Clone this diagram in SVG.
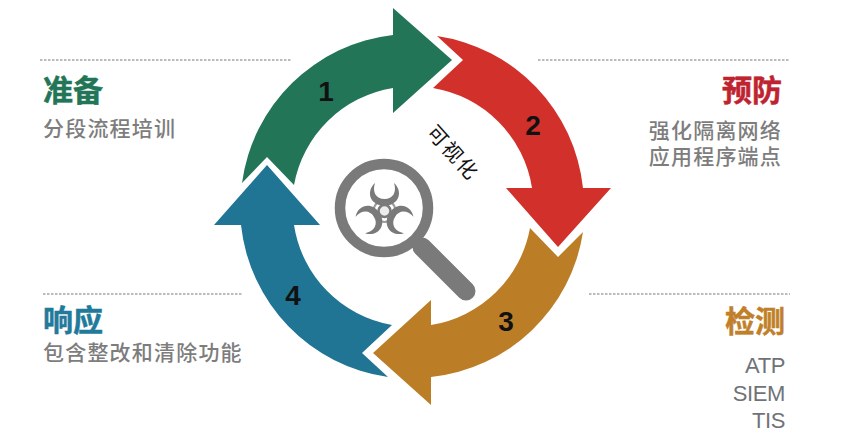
<svg xmlns="http://www.w3.org/2000/svg" width="866" height="435" viewBox="0 0 866 435">
<style>
text{font-family:"Liberation Sans","Noto Sans CJK SC",sans-serif}
.t{font-family:"Noto Sans CJK SC",sans-serif;font-size:30px;font-weight:700;stroke-width:.5px}
.s{font-family:"Noto Sans CJK SC",sans-serif;font-size:21px;letter-spacing:1.2px;fill:#7d7d7d;font-weight:500}
.e{text-anchor:end}
.n{font-size:28px;font-weight:700;fill:#111;text-anchor:middle}
.a{font-size:22px;letter-spacing:-.4px;fill:#6f7378;text-anchor:end}
.d{stroke:#a5a5a5;stroke-width:1.5;stroke-dasharray:2.5 1.5;fill:none}
.b{fill:#7a7a7a}
</style>
<defs>
<path id="cres" d="M375 183C366 191 369 205 384.500 206C400 205 403 191 394 183C397 192 393 199 384.500 199C376 199 372 192 375 183Z"/>
</defs>
<rect width="866" height="435" fill="#fff"/>
<g id="connectors">
<path class="d" d="M40 60H291M538 60H790M43 294H243M589 294H790"/>
</g>
<g id="node-1">
<path fill="#237558" d="M242 183A172 172 0 0 1 393 35L393 8L452 60L393 113L393 88A120 120 0 0 0 294 185L267 157Z"/>
<text class="n" x="326" y="101">1</text>
</g>
<g id="node-2">
<path fill="#d2302b" d="M437 36L463 60L433 88A120 120 0 0 1 532 188L506 188L558 247L611 188L583 188A172 172 0 0 0 437 36Z"/>
<text class="n" x="533" y="135">2</text>
</g>
<g id="node-3">
<path fill="#bb7e26" d="M583 232L558 257L530 228A120 120 0 0 1 431 325L431 300L373 353L431 405L431 377A172 172 0 0 0 583 232Z"/>
<text class="n" x="506" y="331">3</text>
</g>
<g id="node-4">
<path fill="#207595" d="M392 325L362 353L388 377A172 172 0 0 1 241 225L214 225L267 165L320 225L294 225A120 120 0 0 0 392 325Z"/>
<text class="n" x="293" y="305">4</text>
</g>
<g id="magnifier">
<line x1="422" y1="247" x2="466" y2="291" stroke="#7a7a7a" stroke-width="19" stroke-linecap="round"/>
<circle cx="384" cy="208" r="44" fill="#fff" stroke="#7a7a7a" stroke-width="10.500"/>
<use href="#cres" class="b"/>
<use href="#cres" class="b" transform="rotate(120 384.500 211)"/>
<use href="#cres" class="b" transform="rotate(240 384.500 211)"/>
<circle cx="384.500" cy="211" r="11" fill="none" stroke="#7a7a7a" stroke-width="2" opacity=".75"/>
<circle cx="384.500" cy="211" r="6" fill="#ececec" stroke="#7a7a7a" stroke-width="2.500"/>
<text transform="translate(453 153) rotate(48)" text-anchor="middle" y="7" style="font-family:'Noto Sans CJK SC',sans-serif;font-size:20px;letter-spacing:2px;fill:#111">可视化</text>
</g>
<g id="label-prepare">
<text class="t" x="43" y="101" fill="#237558" stroke="#237558">准备</text>
<text class="s" x="43" y="135.500">分段流程培训</text>
</g>
<g id="label-prevent">
<text class="t e" x="782" y="101" fill="#bf2330" stroke="#bf2330">预防</text>
<text class="s e" x="782" y="138">强化隔离网络</text>
<text class="s e" x="782" y="164">应用程序端点</text>
</g>
<g id="label-detect">
<text class="t e" x="785" y="332" fill="#c17f2a" stroke="#c17f2a">检测</text>
<text class="a" x="785" y="373">ATP</text>
<text class="a" x="785" y="401">SIEM</text>
<text class="a" x="785" y="428">TIS</text>
</g>
<g id="label-respond">
<text class="t" x="43" y="331" fill="#227a9b" stroke="#227a9b">响应</text>
<text class="s" x="43" y="360">包含整改和清除功能</text>
</g>
</svg>
